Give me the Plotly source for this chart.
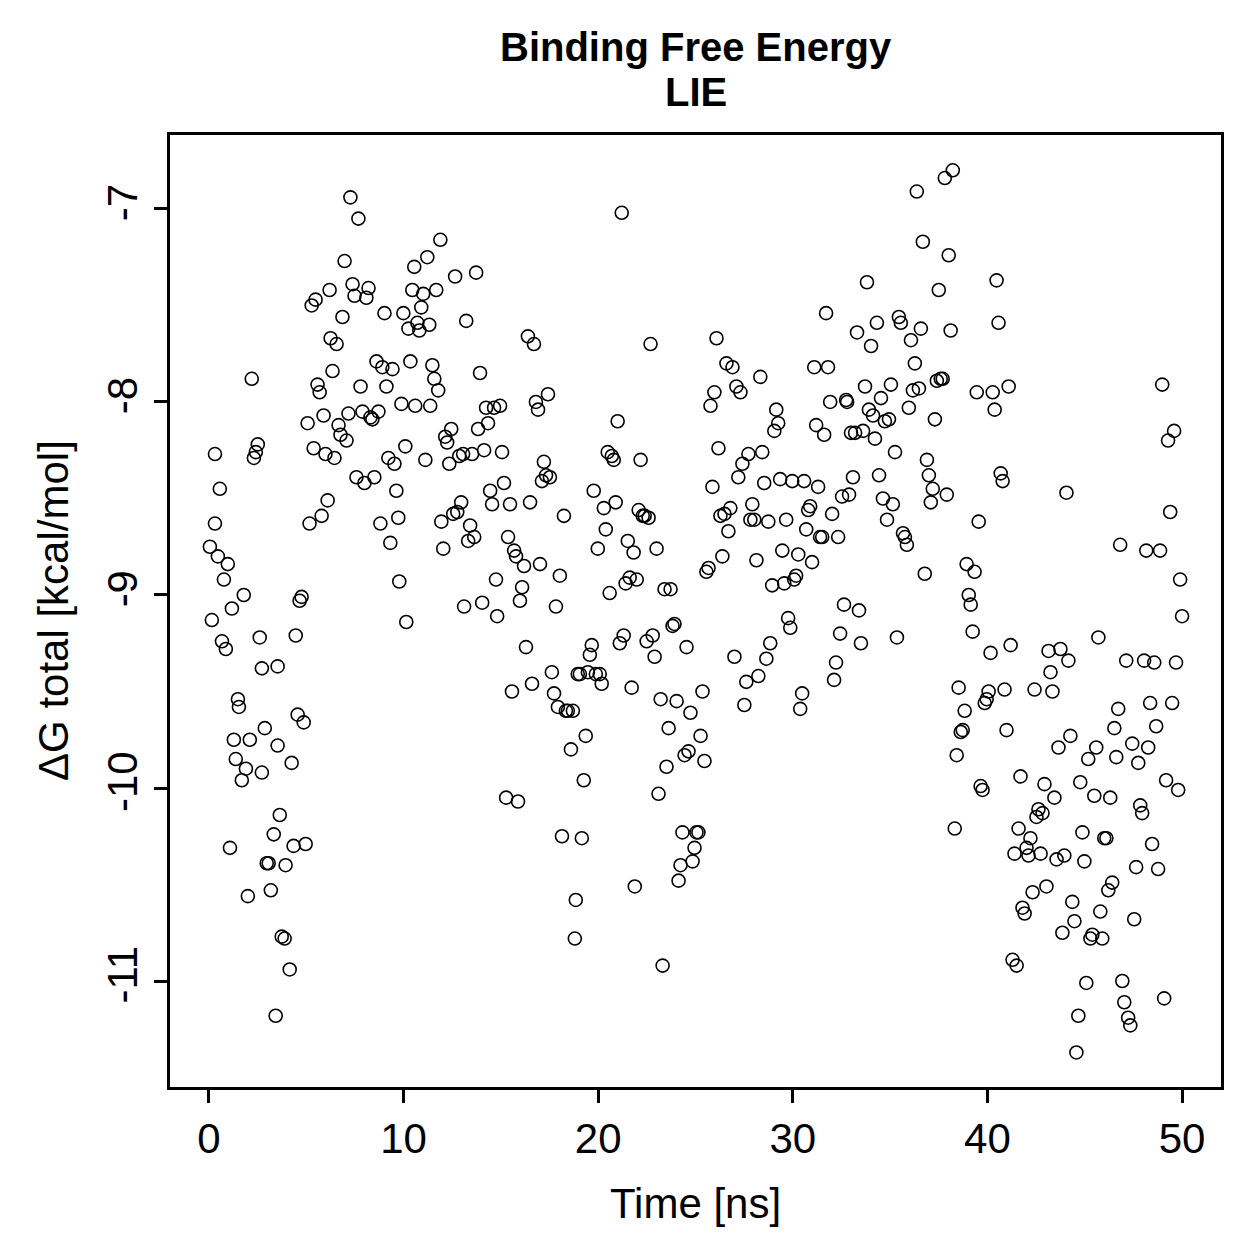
import plotly.graph_objects as go

time_ns = [
0.05,0.15,0.31,0.31,0.46,0.56,0.67,0.77,0.87,0.97,
1.08,1.18,1.28,1.38,1.49,1.54,1.69,1.79,1.90,2.00,
2.10,2.20,2.31,2.41,2.51,2.61,2.72,2.72,2.87,2.97,
3.07,3.18,3.33,3.43,3.53,3.53,3.64,3.74,3.89,3.94,
4.15,4.25,4.35,4.46,4.56,4.66,4.76,4.87,4.97,5.07,
5.17,5.28,5.38,5.48,5.58,5.69,5.79,5.89,5.99,6.10,
6.20,6.25,6.35,6.45,6.56,6.66,6.76,6.86,6.97,7.07,
7.17,7.27,7.38,7.48,7.58,7.68,7.79,7.89,7.99,8.09,
8.20,8.30,8.40,8.50,8.61,8.71,8.81,8.91,9.02,9.12,
9.22,9.32,9.43,9.53,9.63,9.73,9.78,9.89,9.99,10.09,
10.14,10.25,10.35,10.45,10.55,10.60,10.71,10.81,10.91,11.01,
11.12,11.22,11.32,11.37,11.48,11.58,11.68,11.78,11.89,11.94,
12.04,12.14,12.24,12.35,12.45,12.55,12.65,12.76,12.86,12.96,
13.06,13.11,13.22,13.32,13.42,13.52,13.63,13.73,13.83,13.93,
14.04,14.14,14.24,14.34,14.45,14.55,14.65,14.75,14.81,14.96,
15.06,15.16,15.27,15.37,15.47,15.57,15.68,15.78,15.88,15.98,
16.09,16.19,16.29,16.39,16.50,16.60,16.70,16.80,16.91,17.01,
17.11,17.21,17.32,17.42,17.52,17.62,17.73,17.83,17.93,18.03,
18.14,18.24,18.34,18.44,18.60,18.70,18.80,18.85,18.95,19.06,
19.16,19.26,19.36,19.47,19.57,19.67,19.77,19.88,19.98,20.08,
20.18,20.29,20.39,20.49,20.59,20.70,20.80,20.90,21.00,21.11,
21.21,21.31,21.41,21.52,21.62,21.72,21.82,21.88,21.98,22.08,
22.18,22.29,22.39,22.49,22.59,22.69,22.80,22.90,23.00,23.10,
23.21,23.31,23.41,23.51,23.62,23.72,23.82,23.92,24.03,24.13,
24.23,24.33,24.44,24.54,24.64,24.74,24.85,24.95,25.05,25.15,
25.26,25.36,25.46,25.56,25.67,25.77,25.87,25.97,26.08,26.18,
26.28,26.38,26.49,26.59,26.69,26.79,26.90,27.00,27.10,27.20,
27.31,27.41,27.51,27.61,27.72,27.82,27.92,28.02,28.13,28.23,
28.33,28.43,28.53,28.64,28.74,28.84,28.94,29.05,29.15,29.25,
29.35,29.46,29.56,29.66,29.76,29.87,29.97,30.07,30.17,30.28,
30.38,30.48,30.58,30.69,30.79,30.89,30.99,31.10,31.20,31.30,
31.40,31.51,31.61,31.71,31.81,31.92,32.02,32.12,32.22,32.33,
32.43,32.53,32.63,32.74,32.79,32.89,32.99,33.09,33.20,33.30,
33.40,33.50,33.61,33.71,33.81,33.91,34.02,34.12,34.22,34.32,
34.43,34.53,34.63,34.73,34.84,34.94,35.04,35.14,35.25,35.35,
35.45,35.55,35.66,35.76,35.86,35.96,36.07,36.17,36.27,36.37,
36.48,36.58,36.68,36.78,36.89,36.99,37.09,37.19,37.30,37.40,
37.50,37.60,37.70,37.81,37.91,38.01,38.11,38.22,38.32,38.42,
38.52,38.63,38.73,38.83,38.93,39.04,39.14,39.24,39.34,39.45,
39.55,39.65,39.75,39.86,39.96,40.06,40.16,40.27,40.37,40.47,
40.57,40.68,40.78,40.88,40.98,41.09,41.19,41.29,41.39,41.50,
41.60,41.70,41.80,41.91,42.01,42.11,42.21,42.32,42.42,42.52,
42.62,42.73,42.83,42.93,43.03,43.14,43.24,43.34,43.44,43.55,
43.65,43.75,43.85,43.95,44.06,44.16,44.26,44.36,44.47,44.57,
44.67,44.77,44.88,44.98,45.08,45.18,45.29,45.39,45.49,45.59,
45.70,45.80,45.90,46.00,46.11,46.21,46.31,46.41,46.52,46.62,
46.72,46.82,46.93,47.03,47.13,47.23,47.34,47.44,47.54,47.64,
47.75,47.85,47.95,48.05,48.16,48.26,48.36,48.46,48.57,48.67,
48.77,48.87,48.98,49.08,49.18,49.28,49.39,49.49,49.59,49.69,
49.80,49.90,50.00,
]

dg_total = [
-8.75,-9.13,-8.27,-8.63,-8.80,-8.45,-9.24,-8.92,-9.28,-8.84,
-10.31,-9.07,-9.75,-9.85,-9.54,-9.58,-9.96,-9.00,-9.90,-10.56,
-9.75,-7.88,-8.29,-8.26,-8.22,-9.22,-9.38,-9.92,-9.69,-10.39,
-10.39,-10.53,-10.24,-11.18,-9.37,-9.78,-10.14,-10.77,-10.78,-10.40,
-10.94,-9.87,-10.30,-9.21,-9.62,-9.03,-9.01,-9.66,-10.29,-8.11,
-8.63,-7.50,-8.24,-7.47,-7.91,-7.95,-8.59,-8.07,-8.27,-8.51,
-7.42,-7.67,-7.84,-8.29,-7.70,-8.12,-8.17,-7.56,-7.27,-8.20,
-8.06,-6.94,-7.39,-7.45,-8.39,-7.05,-7.92,-8.05,-8.42,-7.46,
-7.41,-8.08,-8.09,-8.39,-7.79,-8.05,-8.63,-7.82,-7.54,-7.92,
-8.29,-8.73,-7.83,-8.32,-8.46,-8.60,-8.93,-8.01,-7.54,-8.23,
-9.14,-7.62,-7.79,-7.42,-7.30,-8.02,-7.59,-7.63,-7.51,-7.44,
-8.30,-7.25,-7.60,-8.02,-7.81,-7.88,-7.42,-7.94,-7.16,-8.62,
-8.76,-8.18,-8.21,-8.32,-8.14,-8.58,-7.35,-8.57,-8.28,-8.52,
-8.27,-9.06,-7.58,-8.72,-8.64,-8.27,-8.70,-7.33,-8.14,-7.85,
-9.04,-8.25,-8.03,-8.11,-8.46,-8.53,-8.03,-8.92,-9.11,-8.02,
-8.26,-8.42,-10.05,-8.70,-8.53,-9.50,-8.77,-8.80,-10.07,-9.03,
-8.96,-8.85,-9.27,-7.66,-8.52,-9.46,-7.70,-8.00,-8.04,-8.84,
-8.41,-8.31,-8.38,-7.96,-8.39,-9.40,-9.51,-9.06,-9.58,-8.90,
-10.25,-8.59,-9.60,-9.60,-9.80,-9.60,-10.78,-10.58,-9.41,-9.41,
-10.26,-9.96,-9.73,-9.40,-9.31,-9.26,-8.46,-9.41,-8.76,-9.41,
-9.46,-8.55,-8.66,-8.26,-8.99,-8.28,-8.30,-8.52,-8.10,-9.25,
-7.02,-9.21,-8.94,-8.72,-8.91,-9.48,-8.78,-10.51,-8.92,-8.56,
-8.30,-8.59,-8.59,-9.24,-8.60,-7.70,-9.21,-9.32,-8.76,-10.03,
-9.54,-10.92,-8.97,-9.89,-9.69,-8.97,-9.16,-9.15,-9.55,-10.48,
-10.40,-10.23,-9.83,-9.27,-9.81,-9.61,-10.38,-10.31,-10.23,-10.23,
-9.73,-9.50,-9.86,-8.88,-8.86,-8.02,-8.44,-7.95,-7.67,-8.24,
-8.59,-8.80,-8.58,-7.80,-8.67,-8.55,-7.82,-9.32,-7.92,-8.39,
-7.95,-8.32,-9.57,-9.45,-8.27,-8.61,-8.53,-8.61,-8.82,-9.42,
-7.87,-8.26,-8.42,-9.33,-8.62,-9.25,-8.95,-8.15,-8.04,-8.11,
-8.40,-8.77,-8.94,-8.61,-9.12,-9.17,-8.41,-8.92,-8.90,-8.79,
-9.59,-9.51,-8.41,-8.66,-8.56,-8.54,-8.83,-7.82,-8.12,-8.44,
-8.70,-8.70,-8.17,-7.54,-7.82,-8.00,-8.58,-9.44,-9.35,-8.70,
-9.20,-8.49,-9.05,-7.99,-8.00,-8.48,-8.16,-8.39,-8.16,-7.64,
-9.08,-9.25,-8.15,-7.92,-7.38,-8.04,-7.71,-8.07,-8.19,-7.59,
-8.38,-7.98,-8.50,-8.10,-8.61,-8.09,-7.91,-8.53,-8.26,-9.22,
-7.56,-7.59,-8.68,-8.70,-8.74,-8.03,-7.68,-7.94,-7.80,-6.91,
-7.93,-7.62,-7.17,-8.89,-8.30,-8.38,-8.52,-8.45,-8.09,-7.89,
-7.42,-7.88,-7.88,-6.84,-8.48,-7.24,-7.63,-6.80,-10.21,-9.83,
-9.48,-9.71,-9.70,-9.60,-8.84,-9.00,-9.05,-9.19,-8.88,-7.95,
-8.62,-9.99,-10.01,-9.56,-9.54,-9.50,-9.30,-7.95,-8.04,-7.37,
-7.59,-8.37,-8.41,-9.49,-9.70,-7.92,-9.26,-10.89,-10.34,-10.92,
-10.21,-9.94,-10.62,-10.65,-10.31,-10.35,-10.26,-10.54,-9.49,-10.15,
-10.11,-10.34,-10.13,-9.98,-10.51,-9.29,-9.40,-9.50,-10.05,-10.37,
-9.79,-9.28,-10.75,-10.35,-8.47,-9.34,-9.73,-10.59,-10.69,-11.37,
-11.18,-9.97,-10.23,-10.38,-11.01,-9.85,-10.78,-10.76,-10.04,-9.79,
-9.22,-10.64,-10.78,-10.26,-10.26,-10.53,-10.05,-10.49,-9.69,-9.84,
-9.59,-8.74,-11.00,-11.11,-9.34,-11.19,-11.23,-9.77,-10.68,-10.41,
-9.87,-10.09,-10.13,-9.34,-8.77,-9.79,-9.56,-10.29,-9.35,-9.68,
-10.42,-8.77,-7.91,-11.09,-9.96,-8.20,-8.57,-9.56,-8.15,-9.35,
-10.01,-8.92,-9.11,
]

x_ticks = [0, 10, 20, 30, 40, 50]
y_ticks = [-11, -10, -9, -8, -7]

NARROW = "Liberation Sans Narrow, Arial Narrow, Liberation Sans, Arial, sans-serif"
BOLD = "Liberation Sans, Arial, Helvetica, sans-serif"

fig = go.Figure()
fig.add_trace(go.Scatter(
    x=time_ns, y=dg_total, mode="markers",
    marker=dict(symbol="circle-open", size=13, color="black",
                line=dict(width=1.6, color="black")),
    showlegend=False,
))

PLOT_TOP, PLOT_BOTTOM, PLOT_LEFT, PLOT_RIGHT = 135, 1087, 170, 1221
H = PLOT_BOTTOM - PLOT_TOP
W = PLOT_RIGHT - PLOT_LEFT

def py(pix):
    return (PLOT_BOTTOM - pix) / H

def px(pix):
    return (pix - PLOT_LEFT) / W

fig.update_layout(
    width=1259, height=1259,
    margin=dict(l=PLOT_LEFT, r=1259 - PLOT_RIGHT, t=PLOT_TOP, b=1259 - PLOT_BOTTOM),
    paper_bgcolor="white", plot_bgcolor="white",
    font=dict(family=NARROW, size=42, color="black"),
    xaxis=dict(range=[-2, 52], tickvals=x_ticks, ticktext=[str(v) for v in x_ticks],
               showgrid=False, zeroline=False, showline=True, mirror=True,
               linecolor="black", linewidth=2.5,
               ticks="outside", ticklen=13, tickwidth=2.5, tickcolor="black",
               tickfont=dict(family=NARROW, size=42)),
    yaxis=dict(range=[-11.549, -6.617], tickvals=y_ticks, ticktext=[str(v) for v in y_ticks],
               showgrid=False, zeroline=False, showline=True, mirror=True,
               linecolor="black", linewidth=2.5,
               ticks="outside", ticklen=13, tickwidth=2.5, tickcolor="black",
               tickangle=-90, tickfont=dict(family=NARROW, size=42)),
    annotations=[
        dict(text="<b>Binding Free Energy</b>", xref="paper", yref="paper",
             x=0.5, y=py(47), xanchor="center", yanchor="middle", showarrow=False,
             font=dict(family=BOLD, size=40)),
        dict(text="<b>LIE</b>", xref="paper", yref="paper",
             x=0.5, y=py(92), xanchor="center", yanchor="middle", showarrow=False,
             font=dict(family=BOLD, size=40)),
        dict(text="Time [ns]", xref="paper", yref="paper", x=0.5, y=py(1203),
             xanchor="center", yanchor="middle", showarrow=False,
             font=dict(family=NARROW, size=42)),
        dict(text="ΔG total [kcal/mol]", xref="paper", yref="paper", x=px(53), y=0.5,
             xanchor="center", yanchor="middle", textangle=-90, showarrow=False,
             font=dict(family=NARROW, size=42)),
    ],
)

fig.write_html("out.html")
